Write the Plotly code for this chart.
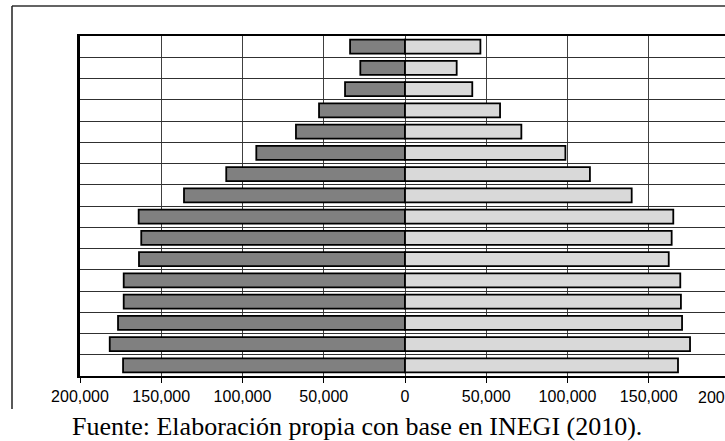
import plotly.graph_objects as go

# Age groups, bottom (youngest) to top (oldest)
grupos = ["0-4", "5-9", "10-14", "15-19", "20-24", "25-29", "30-34", "35-39",
          "40-44", "45-49", "50-54", "55-59", "60-64", "65-69", "70-74", "75 y más"]
hombres = [173500, 181700, 176600, 173100, 173100, 163700, 162300, 163900,
           136000, 110000, 91500, 67100, 52900, 36900, 27500, 33800]
mujeres = [168000, 175400, 170500, 169800, 169400, 162300, 164100, 165100,
           139500, 113800, 98700, 71600, 58500, 41400, 31800, 46400]

tick_vals = [-200000, -150000, -100000, -50000, 0, 50000, 100000, 150000]
tick_text = ["200,000", "150,000", "100,000", "50,000", "0", "50,000", "100,000", "150,000"]
edge_label = "200,000"
fuente = "Fuente: Elaboración propia con base en INEGI (2010)."

W, H = 725, 441
L, T, B, R = 80, 36, 65, 0
plot_w = W - L - R
plot_h = H - T - B
px_per_unit = 325 / 200000.0
x_max = -200000 + plot_w / px_per_unit

def px_x(px):
    return (px - L) / plot_w

def px_y(py):
    return (H - B - py) / plot_h

tick_font = dict(family="Liberation Sans, Arial", size=16, color="#000000")

fig = go.Figure()
fig.add_trace(go.Bar(
    y=grupos, x=[-v for v in hombres], orientation="h", name="Hombres",
    marker=dict(color="#808080", line=dict(color="#000000", width=1.8)),
))
fig.add_trace(go.Bar(
    y=grupos, x=mujeres, orientation="h", name="Mujeres",
    marker=dict(color="#d9d9d9", line=dict(color="#000000", width=1.8)),
))

fig.update_layout(
    width=W, height=H,
    margin=dict(l=L, r=R, t=T, b=B, pad=0),
    barmode="overlay", bargap=0.34,
    showlegend=False,
    plot_bgcolor="white", paper_bgcolor="white",
    font=dict(family="Liberation Sans, Arial", size=15, color="#000000"),
    xaxis=dict(
        range=[-200000, x_max], tickvals=tick_vals, ticktext=tick_text,
        showgrid=True, gridcolor="#404040", gridwidth=1,
        zeroline=False,
        showline=True, linecolor="#000000", linewidth=2, mirror=True,
        ticks="outside", ticklen=5, tickwidth=1.2, tickcolor="#000000",
        tickfont=tick_font,
        fixedrange=True,
    ),
    yaxis=dict(
        type="category", categoryorder="array", categoryarray=grupos,
        tickson="boundaries", showticklabels=False, ticks="",
        showgrid=True, gridcolor="#303030", gridwidth=1,
        showline=True, linecolor="#000000", linewidth=2.5,
        range=[-0.5, len(grupos) - 0.5],
        fixedrange=True,
    ),
    shapes=[
        dict(type="line", xref="paper", yref="paper",
             x0=px_x(12), x1=px_x(740), y0=px_y(6), y1=px_y(6),
             line=dict(color="#303030", width=1.5)),
        dict(type="line", xref="paper", yref="paper",
             x0=px_x(12), x1=px_x(12), y0=px_y(6), y1=px_y(409),
             line=dict(color="#202020", width=1.5)),
    ],
    annotations=[
        dict(text=edge_label, xref="paper", yref="paper",
             x=px_x(727), y=px_y(397), xanchor="center", yanchor="middle",
             showarrow=False, font=tick_font),
        dict(text=fuente, xref="paper", yref="paper",
             x=px_x(357), y=px_y(427), xanchor="center", yanchor="middle",
             showarrow=False,
             font=dict(family="Liberation Serif, Times New Roman", size=26, color="#000000")),
    ],
)

fig.write_html("out.html")
